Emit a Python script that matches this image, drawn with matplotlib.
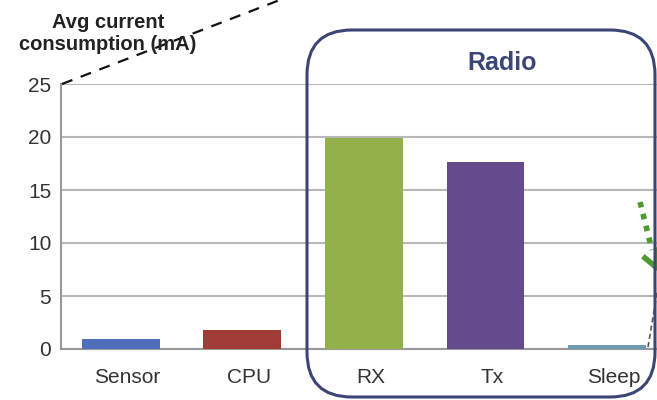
import matplotlib
matplotlib.use("Agg")
import matplotlib.pyplot as plt
from matplotlib.patches import FancyBboxPatch
from matplotlib.lines import Line2D
from matplotlib.transforms import IdentityTransform, ScaledTranslation

categories = ["Sensor", "CPU", "RX", "Tx", "Sleep"]
current_ma = [0.95, 1.8, 19.9, 17.6, 0.4]
bar_colors = ["#4f6fbc", "#a13b37", "#93b04a", "#654a8e", "#6f9bb2"]
y_ticks = [0, 5, 10, 15, 20, 25]

plt.rcParams["font.family"] = ["Liberation Sans", "DejaVu Sans"]

fig = plt.figure(figsize=(6.57, 4), dpi=100)
ax = fig.add_axes([61 / 657, 51 / 400, 1 - 61 / 657, 265 / 400])

x = range(len(categories))
ax.bar(x, current_ma, width=0.64, color=bar_colors, zorder=3)
ax.set_xlim(-0.49, 4.41)
ax.set_ylim(0, 25)
ax.set_yticks(y_ticks)
ax.set_xticks(list(x))
ax.set_xticklabels(categories)
ax.tick_params(axis="both", length=0, labelsize=15, colors="#333333", pad=7)
ax.tick_params(axis="x", pad=14)
# category labels sit a little right of the bar centres
shift = ScaledTranslation(7 / 100, 0, fig.dpi_scale_trans)
for lbl in ax.get_xticklabels():
    lbl.set_transform(lbl.get_transform() + shift)
ax.yaxis.grid(True, color="#b8b8b8", linewidth=1.5, zorder=0)
for side in ["top", "right"]:
    ax.spines[side].set_visible(False)
for side in ["left", "bottom"]:
    ax.spines[side].set_color("#999999")
    ax.spines[side].set_linewidth(1.5)

fig.text(108, 367, "Avg current\nconsumption (mA)", transform=IdentityTransform(),
         ha="center", va="center", fontsize=14.5, fontweight="bold",
         color="#222222", linespacing=1.2)

# rounded box grouping the radio states
box = FancyBboxPatch((307 + 45, 3 + 45), 348 - 90, 367 - 90,
                     boxstyle="round,pad=45", transform=IdentityTransform(),
                     fill=False, edgecolor="#3b4677", linewidth=2.2, zorder=5)
fig.patches.append(box)
fig.text(502, 337, "Radio", transform=IdentityTransform(), ha="center",
         va="center", fontsize=18, fontweight="bold", color="#3b4677")

# zoom callout lines
fig.lines.append(Line2D([62, 285], [316, 402], transform=IdentityTransform(),
                        color="#111111", linewidth=1.6, linestyle=(0, (5, 4))))
fig.lines.append(Line2D([648, 660], [53, 125], transform=IdentityTransform(),
                        color="#555555", linewidth=1.2, linestyle=(0, (3, 2))))
fig.lines.append(Line2D([640, 652], [198, 150], transform=IdentityTransform(),
                        color="#4f9a2e", linewidth=4, linestyle=(0, (1, 1.2))))
fig.lines.append(Line2D([645, 657, 657], [142, 132, 150], transform=IdentityTransform(),
                        color="#4f9a2e", linewidth=4))

fig.savefig("out.png", dpi=100)
